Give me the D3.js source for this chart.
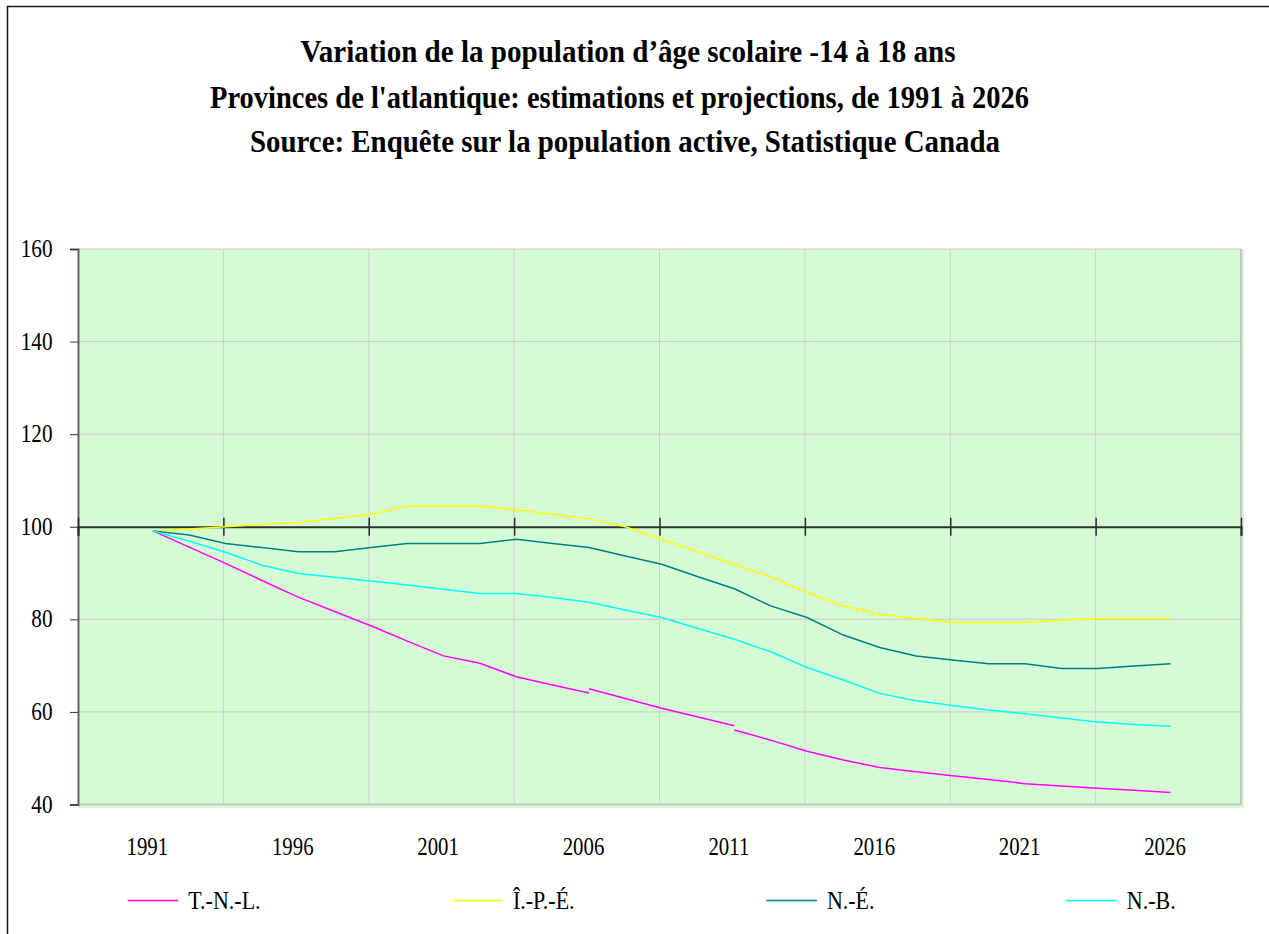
<!DOCTYPE html>
<html>
<head>
<meta charset="utf-8">
<script src="https://cdn.jsdelivr.net/npm/d3@7"></script>
<style>
  body { margin: 0; background: #fff; }
  svg { display: block; }
  text { font-family: "Liberation Serif", "Times New Roman", serif; fill: #000; }
</style>
</head>
<body>
<div id="chart-area"><svg></svg></div>
<script>
const chartSize = { width: 1269, height: 934 };
const plot = { left: 78, right: 1241, top: 249, bottom: 804.5 };

const titleLines = [
  "Variation de la population d’âge scolaire -14 à 18 ans",
  "Provinces de l'atlantique: estimations et projections, de 1991 à 2026",
  "Source: Enquête sur la population active, Statistique Canada"
];

const tickLabels = ["1991", "1996", "2001", "2006", "2011", "2016", "2021", "2026"];
const yTicks = [40, 60, 80, 100, 120, 140, 160];
const legendNames = ["T.-N.-L.", "Î.-P.-É.", "N.-É.", "N.-B."];
const colours = ["#ff00ff", "#ffff00", "#008080", "#00ffff"];

// T.-N.-L. comes in three pieces (estimates / middle / projections)
const tnlEstimates = [99.1, 95.6, 92.1, 88.4, 84.8, 81.7, 78.6, 75.3, 72.1, 70.5, 67.6, 65.8, 64.1];
const tnlMiddle = [65.0, 62.9, 60.8, 58.9, 57.0];
const tnlProjections = [56.1, 53.9, 51.5, 49.6, 48.0, 47.1, 46.2, 45.4, 44.5, 44.0, 43.5, 43.1, 42.6];

const ipe = [99.1, 99.5, 100.0, 100.5, 100.9, 101.8, 102.7, 104.5, 104.5, 104.5, 103.6, 102.7, 101.7,
  100.0, 97.3, 94.6, 91.9, 89.2, 85.8, 82.9, 81.1, 80.2, 79.3, 79.3, 79.3, 79.8, 80.2, 80.2, 80.2];
const ne = [99.1, 98.2, 96.4, 95.5, 94.6, 94.6, 95.5, 96.4, 96.4, 96.4, 97.3, 96.4, 95.5,
  93.7, 91.9, 89.2, 86.6, 82.9, 80.4, 76.6, 73.9, 72.1, 71.2, 70.4, 70.4, 69.4, 69.4, 69.9, 70.4];
const nb = [99.1, 96.9, 94.5, 91.7, 89.9, 89.1, 88.3, 87.4, 86.5, 85.6, 85.6, 84.7, 83.7,
  82.0, 80.4, 78.0, 75.7, 73.0, 69.6, 66.9, 64.0, 62.4, 61.4, 60.4, 59.6, 58.7, 57.8, 57.3, 56.9];

const series = [
  { colour: colours[0], segments: [[0, tnlEstimates], [12, tnlMiddle], [16, tnlProjections]] },
  { colour: colours[1], segments: [[0, ipe]] },
  { colour: colours[2], segments: [[0, ne]] },
  { colour: colours[3], segments: [[0, nb]] }
];

const serif = '"Liberation Serif", "Times New Roman", serif';

// squeeze glyphs horizontally, the original font is narrow and tall
const narrow = (texts, factor) =>
  texts.each(function () {
    const w = this.getComputedTextLength();
    d3.select(this)
      .attr("textLength", w * factor)
      .attr("lengthAdjust", "spacingAndGlyphs");
  });

const main = () => {
  const svg = d3
    .select("#chart-area svg")
    .attr("width", chartSize.width)
    .attr("height", chartSize.height);

  svg.append("rect")
    .attr("x", 7.5).attr("y", 6.5)
    .attr("width", 1280).attr("height", 960)
    .attr("fill", "#fff")
    .attr("stroke", "#1a1a1a")
    .attr("stroke-width", 1.5);

  // title
  const titleCentres = [628, 619.5, 625];
  const titleBaselines = [61.5, 108, 151.5];
  const titleWidths = [655, 819, 750];
  svg.selectAll(".title")
    .data(titleLines)
    .enter()
    .append("text")
    .attr("class", "title")
    .attr("x", (d, i) => titleCentres[i])
    .attr("y", (d, i) => titleBaselines[i])
    .attr("text-anchor", "middle")
    .style("font-family", serif)
    .style("font-size", "31px")
    .style("font-weight", "bold")
    .attr("textLength", (d, i) => titleWidths[i])
    .attr("lengthAdjust", "spacingAndGlyphs")
    .text(d => d);

  const x = d3.scaleLinear().domain([-2.06, 29.94]).range([plot.left, plot.right]);
  const y = d3.scaleLinear().domain([40, 160]).range([plot.bottom, plot.top]);
  const gridIdx = d3.range(9).map(i => -2.06 + 4 * i);
  const labelIdx = tickLabels.map((d, i) => i * 4);

  // plot area
  svg.append("rect")
    .attr("x", plot.left)
    .attr("y", plot.top)
    .attr("width", plot.right - plot.left + 3)
    .attr("height", plot.bottom - plot.top + 3.5)
    .attr("fill", "#d5fbd5");

  const grid = svg.append("g").attr("class", "grid");
  grid.selectAll(".hgrid")
    .data(yTicks.filter(v => v !== 100))
    .enter()
    .append("line")
    .attr("x1", plot.left).attr("x2", plot.right)
    .attr("y1", d => y(d)).attr("y2", d => y(d))
    .attr("stroke", d => (d === 40 ? "#c6c6c6" : "#cfc8cf"))
    .attr("stroke-width", d => (d === 40 ? 2 : 1));
  grid.selectAll(".vgrid")
    .data(gridIdx.slice(1))
    .enter()
    .append("line")
    .attr("x1", d => x(d)).attr("x2", d => x(d))
    .attr("y1", plot.top).attr("y2", plot.bottom)
    .attr("stroke", (d, i) => (i === gridIdx.length - 2 ? "#c6c6c6" : "#cfcfcf"))
    .attr("stroke-width", (d, i) => (i === gridIdx.length - 2 ? 2 : 1));

  // y axis
  const yAxis = svg.append("g")
    .attr("class", "y-axis")
    .attr("transform", `translate(${plot.left},0)`)
    .call(d3.axisLeft(y).tickValues(yTicks).tickSize(8).tickPadding(17.5).tickFormat(d3.format("d")));
  yAxis.select(".domain").attr("stroke", "#5c685c").attr("stroke-width", 2);
  yAxis.selectAll(".tick line").attr("stroke", "#333");
  yAxis.selectAll(".tick text")
    .style("font-family", serif)
    .style("font-size", "25px")
    .style("fill", "#000")
    .attr("dy", "0.3em")
    .call(narrow, 0.85);

  // category axis crossing at 100
  const xAxis = svg.append("g")
    .attr("class", "x-axis")
    .attr("transform", `translate(0,${y(100)})`)
    .call(d3.axisBottom(x).tickValues(gridIdx).tickSize(9).tickFormat(""));
  xAxis.select(".domain").attr("stroke", "#2b332b").attr("stroke-width", 2);
  xAxis.selectAll(".tick line").attr("y1", -9).attr("stroke", "#2b2b2b").attr("stroke-width", 1.5);

  // category labels along the bottom
  const xLabels = svg.append("g")
    .attr("class", "x-labels")
    .attr("transform", `translate(-6,${plot.bottom})`)
    .call(d3.axisBottom(x).tickValues(labelIdx).tickSize(0).tickPadding(32).tickFormat((d, i) => tickLabels[i]));
  xLabels.select(".domain").remove();
  xLabels.selectAll(".tick text")
    .style("font-family", serif)
    .style("font-size", "26px")
    .style("fill", "#000")
    .call(narrow, 0.8);

  // lines
  const line = d3.line().x(d => x(d[0])).y(d => y(d[1]));
  series.forEach(s => {
    s.segments.forEach(([start, values]) => {
      svg.append("path")
        .datum(values.map((v, i) => [start + i, v]))
        .attr("fill", "none")
        .attr("stroke", s.colour)
        .attr("stroke-width", 1.5)
        .attr("d", line);
    });
  });

  // legend
  const legend = svg.append("g").attr("class", "legend");
  let cursor = 127.7;
  legendNames.forEach((name, i) => {
    legend.append("line")
      .attr("x1", cursor).attr("x2", cursor + 50.6)
      .attr("y1", 900.5).attr("y2", 900.5)
      .attr("stroke", colours[i])
      .attr("stroke-width", 1.5);
    const t = legend.append("text")
      .attr("x", cursor + 60.6)
      .attr("y", 908.5)
      .style("font-family", serif)
      .style("font-size", "26px")
      .text(name)
      .call(narrow, 0.846);
    cursor = cursor + 60.6 + +t.attr("textLength") + 191.7;
  });
};

window.onload = main;
</script>
</body>
</html>
